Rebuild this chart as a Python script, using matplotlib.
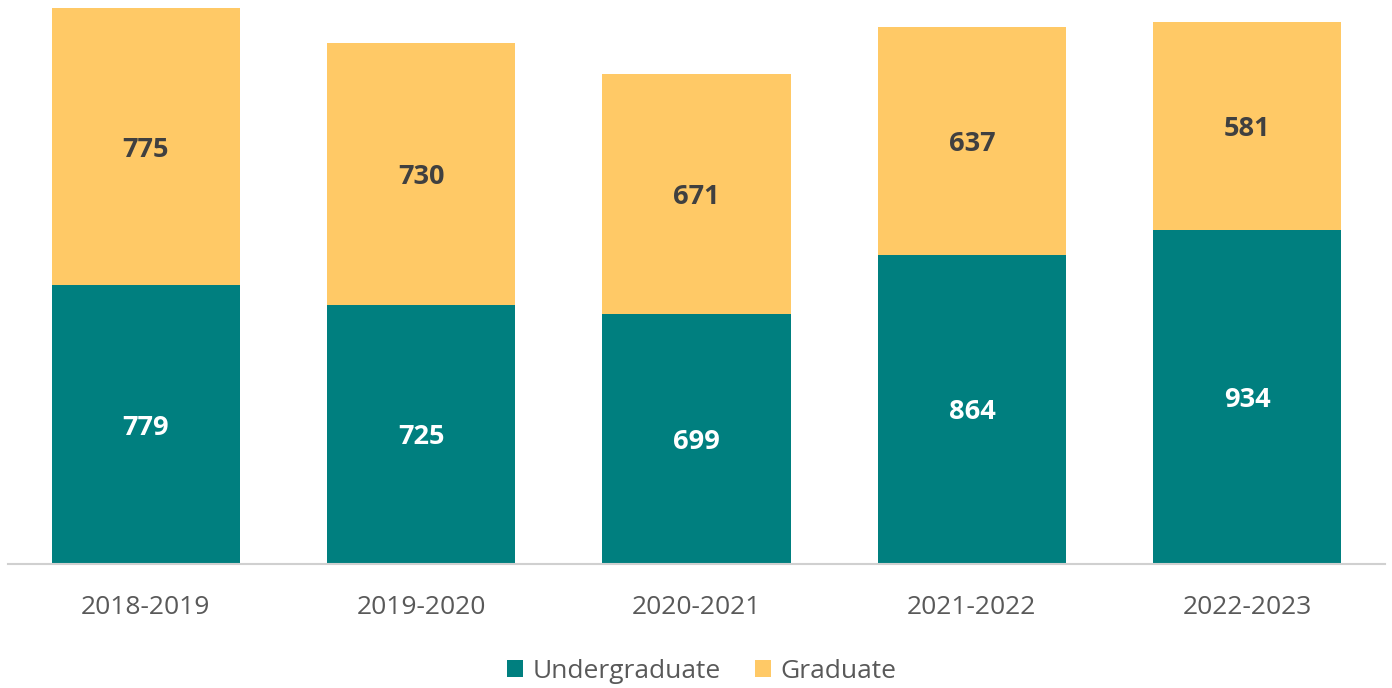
import matplotlib.pyplot as plt
import numpy as np

years = ["2018-2019", "2019-2020", "2020-2021", "2021-2022", "2022-2023"]
undergrad = [779, 725, 699, 864, 934]
grad = [775, 730, 671, 637, 581]

TEAL = "#007F7F"
GOLD = "#FFC966"

plt.rcParams["font.family"] = ["Open Sans", "DejaVu Sans"]

fig = plt.figure(figsize=(13.92, 6.88), dpi=100)
ax = fig.add_axes([8 / 1392, 124 / 688, 1377 / 1392, 564 / 688])

x = np.arange(len(years))
w = 0.683
b1 = ax.bar(x, undergrad, width=w, color=TEAL, label="Undergraduate")
b2 = ax.bar(x, grad, width=w, bottom=undergrad, color=GOLD, label="Graduate")

for xi, u, g in zip(x, undergrad, grad):
    ax.text(xi, u / 2, str(u), ha="center", va="center_baseline", color="white",
            fontsize=19.5, fontweight="bold")
    ax.text(xi, u + g / 2, str(g), ha="center", va="center_baseline", color="#404040",
            fontsize=19.5, fontweight="bold")

ax.set_xlim(-0.5, len(years) - 0.5)
ax.set_ylim(0, 1576)
ax.set_yticks([])
for s in ["top", "right", "left"]:
    ax.spines[s].set_visible(False)
ax.spines["bottom"].set_color("#d0d0d0")
ax.spines["bottom"].set_linewidth(1.5)
ax.set_xticks(x)
ax.set_xticklabels(years, fontsize=19, color="#595959")
ax.tick_params(axis="x", length=0, pad=22)

fig.legend(handles=[b1, b2], loc="center", bbox_to_anchor=(0.504, 0.024), ncol=2,
           frameon=False, fontsize=19, labelcolor="#595959",
           handlelength=0.6, handleheight=0.6, handletextpad=0.35, columnspacing=1.3)

fig.savefig("out.png", dpi=100, facecolor="white")
